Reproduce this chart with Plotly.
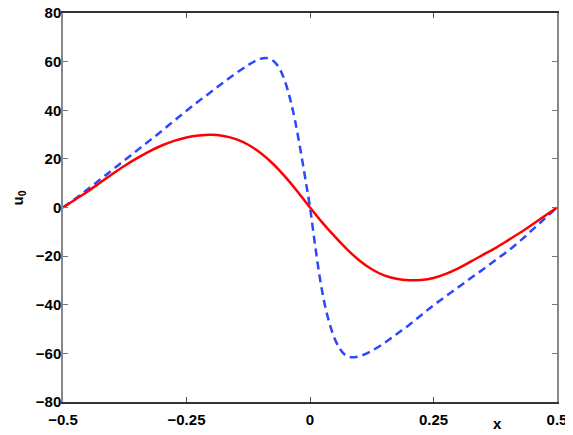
import plotly.graph_objects as go

# Red solid curve
x_red = [-0.5, -0.475, -0.45, -0.425, -0.4, -0.375, -0.35, -0.325, -0.3, -0.275,
         -0.25, -0.225, -0.2, -0.175, -0.15, -0.125, -0.1, -0.075, -0.05, -0.025,
         0.0, 0.025, 0.05, 0.075, 0.1, 0.125, 0.15, 0.175, 0.2, 0.225,
         0.25, 0.275, 0.3, 0.325, 0.35, 0.375, 0.4, 0.425, 0.45, 0.475, 0.5]
y_red = [0.0, 3.3, 6.6, 10.2, 13.8, 17.2, 20.3, 23.1, 25.5, 27.4,
         28.8, 29.6, 29.9, 29.4, 28.1, 25.8, 22.4, 18.0, 12.6, 6.5,
         0.0, -6.2, -11.9, -17.2, -21.8, -25.4, -27.9, -29.3, -29.9, -29.8,
         -29.0, -27.3, -25.0, -22.3, -19.5, -16.7, -13.6, -10.4, -7.0, -3.5, 0.0]

# Blue dashed curve
x_blue = [-0.5, -0.475, -0.45, -0.425, -0.4, -0.375, -0.35, -0.325, -0.3, -0.275,
          -0.25, -0.225, -0.2, -0.175, -0.15, -0.125, -0.11, -0.1, -0.09,
          -0.08, -0.07, -0.06, -0.05, -0.04, -0.03, -0.02, -0.01, 0.0,
          0.01, 0.02, 0.03, 0.04, 0.05, 0.06, 0.07, 0.08, 0.09, 0.1, 0.12,
          0.15, 0.175, 0.2, 0.225, 0.25, 0.275, 0.3, 0.325, 0.35, 0.375,
          0.4, 0.425, 0.45, 0.475, 0.5]
y_blue = [0.0, 3.6, 7.5, 11.5, 15.5, 19.5, 23.5, 27.5, 31.5, 35.7,
          39.8, 43.8, 47.6, 51.5, 55.2, 58.6, 60.4, 61.2, 61.5,
          61.0, 59.5, 56.5, 51.5, 44.5, 35.5, 24.5, 12.5, 0.0,
          -15.0, -29.0, -40.0, -48.0, -54.0, -58.0, -60.5, -61.5, -61.6, -61.2, -59.5,
          -55.8, -52.1, -48.4, -44.3, -40.2, -36.5, -32.8, -29.1, -25.5, -21.7,
          -18.0, -13.8, -9.2, -4.6, 0.0]

x_ticks = [-0.5, -0.25, 0, 0.25, 0.5]
x_ticktext = ["\u22120.5", "\u22120.25", "0", "0.25", "0.5"]
y_ticks = [-80, -60, -40, -20, 0, 20, 40, 60, 80]
y_ticktext = ["\u221280", "\u221260", "\u221240", "\u221220", "0", "20", "40", "60", "80"]

FONT = "Liberation Sans, Arial, sans-serif"
# the page places the figure 8px in from the window's top-left corner
W, H = 565, 427
ML, MR, MT, MB = 55, 16, 5, 33

fig = go.Figure()
fig.add_trace(go.Scatter(x=x_blue, y=y_blue, mode="lines",
                         line=dict(color="#2B48FF", width=2.5, dash="8px,5px", shape="spline", smoothing=1.0),
                         showlegend=False))
fig.add_trace(go.Scatter(x=x_red, y=y_red, mode="lines",
                         line=dict(color="#FF0000", width=2.5, shape="spline", smoothing=1.0),
                         showlegend=False))

pw = W - ML - MR
ph = H - MT - MB


def px_to_paper(px, py):
    # px, py are window pixel coordinates; subtract the 8px page offset
    px -= 8
    py -= 8
    return (px - ML) / pw, (H - MB - py) / ph


xl = px_to_paper(497, 423)
yl = px_to_paper(17.5, 198)

fig.update_layout(
    width=W, height=H,
    margin=dict(l=ML, r=MR, t=MT, b=MB, autoexpand=False),
    paper_bgcolor="white", plot_bgcolor="white",
    font=dict(family=FONT, size=15, color="#000000"),
    xaxis=dict(range=[-0.5, 0.5], tickvals=x_ticks,
               ticktext=["<b>" + t + "</b>" for t in x_ticktext],
               ticks="inside", ticklen=5, tickcolor="#555555", mirror="ticks",
               showline=True, linecolor="#333333", linewidth=1.5,
               showgrid=False, zeroline=False, automargin=False,
               ticklabeloverflow="allow", ticklabelstandoff=3,
               tickfont=dict(family=FONT, size=15, color="#000000")),
    yaxis=dict(range=[-80, 80], tickvals=y_ticks,
               ticktext=["<b>" + t + "</b>" for t in y_ticktext],
               ticks="inside", ticklen=5, tickcolor="#777777", mirror="ticks",
               showline=True, linecolor="#888888", linewidth=1.5,
               showgrid=False, zeroline=False, automargin=False,
               ticklabeloverflow="allow", ticklabelstandoff=-3,
               tickfont=dict(family=FONT, size=15, color="#000000")),
    annotations=[
        dict(text="<b>x</b>", x=xl[0], y=xl[1], xref="paper", yref="paper", showarrow=False,
             xanchor="center", yanchor="middle",
             font=dict(family=FONT, size=15, color="#000000")),
        dict(text="<b>u<sub>0</sub></b>", x=yl[0], y=yl[1], xref="paper", yref="paper", showarrow=False,
             xanchor="center", yanchor="middle", textangle=-90,
             font=dict(family=FONT, size=15, color="#000000")),
    ],
)

fig.write_html("out.html")
